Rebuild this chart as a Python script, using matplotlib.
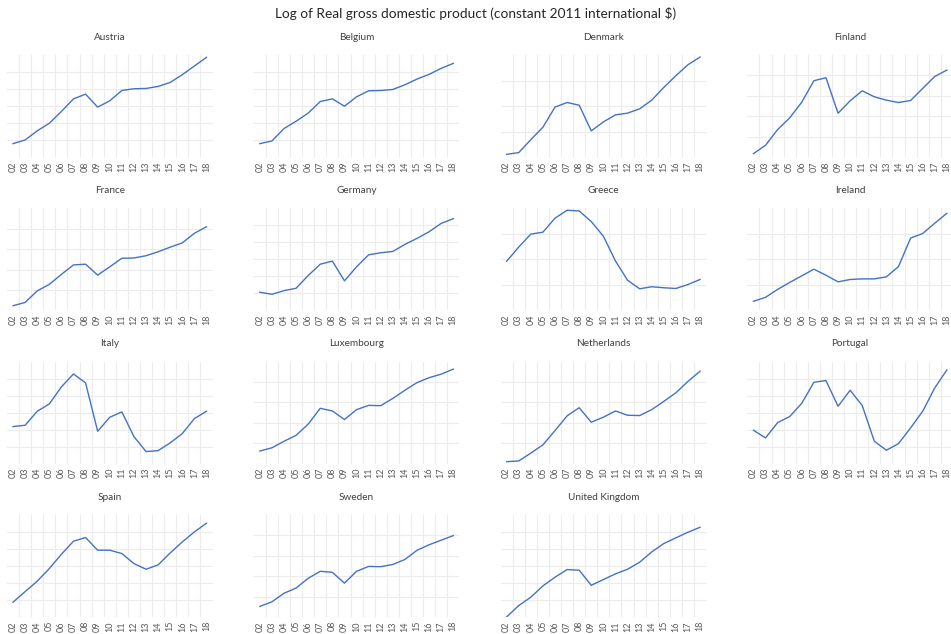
import numpy as np
import matplotlib
matplotlib.use('Agg')
import matplotlib.pyplot as plt

plt.rcParams['font.family'] = ['Lato', 'DejaVu Sans']

years = ['02', '03', '04', '05', '06', '07', '08', '09', '10',
         '11', '12', '13', '14', '15', '16', '17', '18']

# values, as % of each panel's axis range
countries = ['Austria', 'Belgium', 'Denmark', 'Finland',
             'France', 'Germany', 'Greece', 'Ireland',
             'Italy', 'Luxembourg', 'Netherlands', 'Portugal',
             'Spain', 'Sweden', 'United Kingdom']

austria = [13.1, 16.7, 25.6, 33.1, 44.6, 57.0, 61.6, 48.9, 55.1, 65.2, 66.9, 67.2, 69.2, 73.1, 80.7, 89.2, 97.7]
belgium = [13.1, 15.7, 27.9, 35.1, 43.0, 54.4, 57.0, 49.8, 59.0, 64.9, 65.2, 66.2, 70.8, 76.4, 81.0, 86.9, 91.8]
denmark = [2.6, 4.3, 17.0, 29.2, 48.9, 53.4, 50.8, 25.6, 34.4, 41.3, 43.0, 47.2, 55.7, 68.2, 79.7, 90.5, 98.0]
finland = [3.3, 11.5, 26.9, 38.4, 53.8, 74.8, 77.7, 42.9, 55.1, 64.9, 59.0, 55.7, 53.4, 55.4, 67.2, 79.0, 85.2]
france = [4.5, 7.7, 19.0, 25.5, 35.2, 44.5, 45.2, 34.5, 42.6, 51.0, 51.3, 53.5, 57.4, 61.9, 66.1, 75.5, 81.9]
germany = [17.7, 15.7, 19.3, 21.6, 34.1, 45.2, 48.2, 28.9, 42.6, 54.4, 56.4, 57.7, 64.6, 70.5, 77.0, 85.2, 89.8]
greece = [48.1, 62.0, 74.7, 76.6, 90.3, 98.1, 97.4, 87.0, 72.7, 48.4, 29.5, 21.1, 23.1, 22.1, 21.4, 25.3, 30.2]
ireland = [8.8, 12.7, 20.5, 27.3, 33.8, 40.3, 34.4, 27.9, 30.2, 30.8, 30.8, 32.8, 42.9, 70.8, 75.3, 85.4, 95.1]
italy = [36.3, 37.6, 51.3, 58.5, 75.2, 87.9, 79.1, 31.7, 45.4, 50.7, 26.5, 11.8, 12.7, 20.3, 29.4, 44.1, 51.3]
luxembourg = [12.3, 15.5, 21.9, 27.7, 38.7, 54.2, 51.6, 43.2, 52.9, 57.1, 56.8, 63.9, 71.9, 79.4, 84.2, 87.7, 92.6]
netherlands = [1.9, 2.6, 10.3, 18.4, 32.3, 46.8, 54.8, 40.6, 45.5, 51.6, 47.4, 47.1, 52.9, 61.0, 69.4, 80.6, 90.6]
portugal = [32.7, 25.2, 40.2, 46.1, 59.2, 79.7, 81.4, 56.2, 71.9, 56.9, 21.9, 13.1, 19.6, 35.0, 51.3, 74.2, 91.8]
spain = [14.4, 24.8, 35.0, 47.4, 61.4, 74.2, 77.8, 65.4, 65.4, 62.1, 52.3, 46.7, 51.0, 62.7, 73.5, 83.3, 91.8]
sweden = [10.3, 14.8, 23.2, 28.3, 37.9, 44.7, 43.7, 33.1, 44.7, 49.5, 49.2, 51.4, 56.3, 65.3, 70.7, 75.2, 79.7]
uk = [0.0, 11.1, 19.3, 30.4, 38.9, 46.4, 45.8, 31.0, 36.6, 42.2, 46.7, 53.6, 63.7, 71.9, 77.5, 83.0, 87.9]

series = [austria, belgium, denmark, finland, france, germany, greece, ireland,
          italy, luxembourg, netherlands, portugal, spain, sweden, uk]
# number of major divisions on each panel's value axis
divisions = [6, 6, 4, 5, 5, 6, 4, 4, 6, 5, 5, 6, 6, 5, 6]

W, H = 951, 634
fig = plt.figure(figsize=(W / 100, H / 100), dpi=100)
fig.text(0.5, 1 - 14 / H, 'Log of Real gross domestic product (constant 2011 international $)',
         ha='center', va='center', fontsize=9.8, color='#262626')

lineCol = '#4472C4'
gridCol = '#ececec'
x = np.arange(len(years))

for k, (name, vals, ndiv) in enumerate(zip(countries, series, divisions)):
    r, c = divmod(k, 4)
    left = 7 + 246.8 * c
    top = 55 + 153.3 * r
    w, h = 205.5, 102
    ax = fig.add_axes([left / W, (H - top - h) / H, w / W, h / H])
    ax.set_xlim(-0.5, len(years) - 0.5)
    ax.set_ylim(0, 100)
    for i in range(len(years) - 1):
        ax.axvline(i + 0.5, color=gridCol, lw=0.8, zorder=0)
    for j in range(1, ndiv):
        ax.axhline(100.0 * j / ndiv, color=gridCol, lw=0.8, zorder=0)
    ax.plot(x, vals, '-', color=lineCol, lw=1.0, zorder=3)
    for s in ax.spines.values():
        s.set_visible(False)
    ax.set_yticks([])
    ax.set_xticks(x)
    ax.set_xticklabels(years, rotation=90, fontsize=6.5, color='#595959')
    ax.tick_params(axis='x', length=0, pad=3)
    ax.set_title(name, fontsize=7.2, color='#404040', pad=11)

fig.savefig('out.png', dpi=100)
